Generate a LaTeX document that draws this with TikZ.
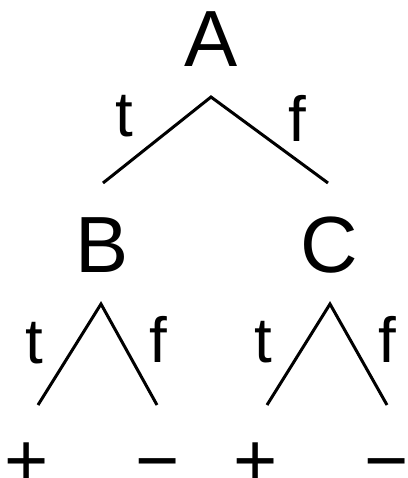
\documentclass[tikz,border=0pt]{standalone}
\usepackage{fontspec}
\setmainfont{Liberation Sans}
\usetikzlibrary{positioning}
\tikzset{
  var/.style   ={inner sep=0pt, anchor=base, font=\fontsize{80}{80}\selectfont},
  lbl/.style   ={inner sep=0pt, anchor=base, font=\fontsize{64}{64}\selectfont},
  leaf/.style  ={inner sep=0pt, anchor=base, font=\fontsize{76}{76}\selectfont},
  edge/.style  ={draw=black, line width=3bp},
}

\begin{document}
\begin{tikzpicture}[x=1bp,y=-1bp]
\useasboundingbox (0,0) rectangle (407,478);
\node[var] (A) at (211,67) {A};
\node[var] (B) at (102,272) {B};
\node[var] (C) at (329,272) {C};

\coordinate (Atop) at (211,97);
\coordinate (Aleft) at (103,183);
\coordinate (Aright) at (328,183);
\coordinate (Btop) at (101,304);
\coordinate (Bleft) at (38,405);
\coordinate (Bright) at (157,405);
\coordinate (Ctop) at (330,304);
\coordinate (Cleft) at (267,405);
\coordinate (Cright) at (387,405);

\node[lbl] (At) at (124,137) {t};
\node[lbl] (Af) at (297,142) {f};
\node[lbl] (Bt) at (34,363) {t};
\node[lbl] (Bf) at (158,362) {f};
\node[lbl] (Ct) at (263,362) {t};
\node[lbl] (Cf) at (387,362) {f};

\node[leaf] (Bp) at (27,486) {+};
\node[leaf] (Bm) at (158,486) {−};
\node[leaf] (Cp) at (256,486) {+};
\node[leaf] (Cm) at (387,486) {−};

\draw[edge] (Aleft)--(Atop)--(Aright);
\draw[edge] (Bleft)--(Btop)--(Bright);
\draw[edge] (Cleft)--(Ctop)--(Cright);
\end{tikzpicture}
\end{document}
